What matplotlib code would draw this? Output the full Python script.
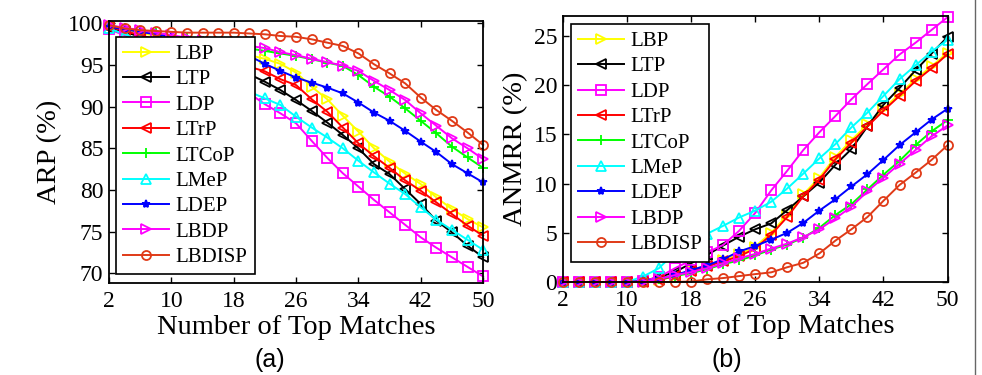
import matplotlib
matplotlib.use('Agg')
import matplotlib.pyplot as plt
from matplotlib.lines import Line2D

# x axis: number of top matches
top_matches = list(range(2, 51, 2))

methods = ['LBP', 'LTP', 'LDP', 'LTrP', 'LTCoP', 'LMeP', 'LDEP', 'LBDP', 'LBDISP']

# (a) ARP (%)
arp_lbp = [99.7, 99.3, 98.9, 98.5, 98.1, 97.7, 97.3, 96.9, 96.5, 96.2, 95.75, 95.15, 94.1,
           92.4, 90.9, 88.9, 87.0, 85.0, 83.4, 81.95, 80.7, 79.1, 77.7, 76.5, 75.5]
arp_ltp = [99.5, 99.0, 98.4, 97.8, 97.2, 96.6, 96.0, 95.3, 94.6, 93.9, 93.0, 92.0, 90.8,
           89.5, 88.1, 86.6, 85.0, 83.1, 81.9, 80.1, 78.3, 76.3, 74.9, 73.3, 71.9]
arp_ldp = [99.3, 98.6, 97.9, 97.1, 96.3, 95.4, 94.5, 93.5, 92.5, 91.6, 90.3, 89.2, 88.0,
           85.9, 83.85, 82.0, 80.4, 78.8, 77.3, 75.8, 74.3, 73.05, 71.9, 70.75, 69.6]
arp_ltrp = [99.6, 99.1, 98.6, 98.1, 97.6, 97.1, 96.5, 95.9, 95.3, 94.8, 94.25, 93.3, 92.6,
            90.9, 89.4, 87.5, 85.6, 84.05, 82.65, 81.15, 79.9, 78.5, 77.1, 75.7, 74.5]
arp_ltcop = [99.7, 99.4, 99.1, 98.8, 98.5, 98.2, 97.9, 97.6, 97.3, 97.0, 96.7, 96.4, 96.1,
             95.7, 95.3, 94.9, 93.8, 92.4, 91.2, 89.8, 88.3, 86.8, 85.2, 83.9, 82.65]
arp_lmep = [99.4, 98.7, 98.0, 97.2, 96.4, 95.6, 94.7, 93.7, 92.7, 91.8, 91.0, 90.2, 88.8,
            87.5, 86.3, 85.0, 83.5, 82.1, 80.75, 79.5, 77.9, 76.4, 75.2, 74.0, 72.8]
arp_ldep = [99.6, 99.3, 99.0, 98.7, 98.4, 98.0, 97.6, 97.2, 96.7, 96.1, 95.15, 94.3, 93.5,
            92.9, 92.3, 91.6, 90.5, 89.3, 88.3, 87.1, 85.8, 84.55, 83.1, 82.0, 80.9]
arp_lbdp = [99.8, 99.5, 99.2, 98.9, 98.6, 98.3, 98.0, 97.7, 97.5, 97.3, 97.05, 96.55, 96.2,
            95.75, 95.35, 94.95, 94.3, 93.1, 92.0, 90.8, 89.2, 87.7, 86.2, 85.0, 83.7]
arp_lbdisp = [99.8, 99.4, 99.2, 99.1, 99.0, 98.9, 98.9, 98.9, 98.9, 98.8, 98.7, 98.5, 98.4,
              98.1, 97.7, 97.3, 96.4, 95.1, 94.0, 92.8, 91.1, 89.6, 88.3, 86.9, 85.4]

# (b) ANMRR (%)
anmrr_lbp = [0, 0, 0, 0, 0, 0, 0.2, 0.6, 1.2, 1.7, 2.2, 2.8, 3.6,
             5.0, 6.8, 8.9, 10.6, 12.7, 14.4, 16.0, 17.6, 19.1, 20.6, 21.9, 23.3]
anmrr_ltp = [0, 0, 0, 0, 0, 0.1, 0.5, 1.0, 1.9, 2.75, 3.7, 4.6, 5.35,
             5.95, 7.3, 8.7, 10.1, 11.9, 13.5, 15.8, 18.0, 19.7, 21.5, 23.2, 24.9]
anmrr_ldp = [0, 0, 0, 0, 0, 0.1, 0.5, 1.4, 2.2, 3.0, 3.75, 5.2, 7.0,
             9.3, 11.3, 13.4, 15.2, 16.85, 18.55, 20.1, 21.6, 23.1, 24.3, 25.6, 26.9]
anmrr_ltrp = [0, 0, 0, 0, 0, 0, 0.2, 0.6, 1.1, 1.6, 2.1, 2.6, 3.4,
              4.8, 6.6, 8.7, 10.4, 12.45, 14.15, 15.8, 17.4, 18.9, 20.4, 21.7, 23.15]
anmrr_ltcop = [0, 0, 0, 0, 0, 0.05, 0.3, 0.6, 0.9, 1.3, 1.8, 2.2, 2.7,
               3.3, 3.8, 4.5, 5.5, 6.8, 7.9, 9.4, 10.9, 12.3, 13.9, 15.3, 16.45]
anmrr_lmep = [0, 0, 0, 0, 0, 0.55, 1.4, 3.0, 4.3, 4.9, 5.7, 6.55, 7.25,
              8.15, 9.5, 11.0, 12.55, 14.0, 15.7, 17.2, 18.9, 20.6, 22.0, 23.4, 24.6]
anmrr_ldep = [0, 0, 0, 0, 0, 0.1, 0.3, 0.7, 1.2, 1.7, 2.3, 3.1, 3.65,
              4.3, 5.0, 6.0, 7.25, 8.4, 9.7, 10.95, 12.4, 13.9, 15.2, 16.5, 17.6]
anmrr_lbdp = [0, 0, 0, 0, 0, 0.05, 0.3, 0.7, 1.0, 1.4, 1.9, 2.4, 2.85,
              3.4, 3.9, 4.55, 5.35, 6.45, 7.65, 9.2, 10.6, 12.0, 13.4, 14.8, 15.9]
anmrr_lbdisp = [0, 0, 0, 0, 0, 0, 0, 0, 0.05, 0.27, 0.4, 0.6, 0.8,
                0.98, 1.5, 1.95, 2.9, 4.2, 5.35, 6.6, 8.25, 9.85, 11.1, 12.4, 13.9]

arp_series = [arp_lbp, arp_ltp, arp_ldp, arp_ltrp, arp_ltcop, arp_lmep, arp_ldep, arp_lbdp, arp_lbdisp]
anmrr_series = [anmrr_lbp, anmrr_ltp, anmrr_ldp, anmrr_ltrp, anmrr_ltcop, anmrr_lmep,
                anmrr_ldep, anmrr_lbdp, anmrr_lbdisp]

colors = ['#FFFF00', '#000000', '#FF00FF', '#FF0000', '#00FF00', '#00FFFF', '#0000FF', '#FF00FF', '#E03A17']
markers = ['>', '<', 's', '<', '+', '^', '*', '>', 'o']

plt.rcParams['font.family'] = ['Liberation Serif', 'DejaVu Serif']

fig = plt.figure(figsize=(9.82, 3.75), dpi=100)
ax1 = fig.add_axes([0.111, 0.245, 0.381, 0.699])
ax2 = fig.add_axes([0.573, 0.248, 0.392, 0.709])


def draw(ax, series, anchor):
    for name, vals, c, m in zip(methods, series, colors, markers):
        face = c if m == '*' else 'none'
        ax.plot(top_matches, vals, color=c, marker=m, markersize=6.5 if m != '*' else 6,
                markerfacecolor=face, markeredgecolor=c, markeredgewidth=1.3,
                linewidth=1.4, label=name, clip_on=False)
    ax.set_xlim(2, 50)
    ax.set_xticks([2, 10, 18, 26, 34, 42, 50])
    ax.tick_params(direction='in', length=4, width=1.0, labelsize=17,
                   top=True, right=True, pad=4)
    ax.tick_params(axis='x', pad=6)
    for s in ax.spines.values():
        s.set_linewidth(1.3)
    ax.set_xlabel('Number of Top Matches', fontsize=20.5, labelpad=2)
    leg = ax.legend(loc='upper left', bbox_to_anchor=anchor, fontsize=15, frameon=True,
                    fancybox=False, edgecolor='black', handlelength=2.2, labelspacing=0.28,
                    borderpad=0.35, handletextpad=0.3, borderaxespad=0)
    leg.get_frame().set_linewidth(1.2)
    leg.get_frame().set_alpha(1.0)


draw(ax1, arp_series, (0.019, 0.939))
ax1.set_ylim(68.8, 100.3)
ax1.set_yticks([70, 75, 80, 85, 90, 95, 100])
ax1.set_ylabel('ARP (%)', fontsize=20.5, labelpad=4)

draw(ax2, anmrr_series, (0.021, 0.97))
ax2.set_ylim(0, 27)
ax2.set_yticks([0, 5, 10, 15, 20, 25])
ax2.set_ylabel('ANMRR (%)', fontsize=20.5, labelpad=4)

fig.text(0.275, 0.02, '(a)', fontsize=18, family=['Liberation Sans'], ha='center')
fig.text(0.74, 0.02, '(b)', fontsize=18, family=['Liberation Sans'], ha='center')

# thin border line at the right edge of the picture
fig.add_artist(Line2D([0.993, 0.993], [0, 1], color='#666666', linewidth=1.0))

fig.savefig('out.png', dpi=100)
